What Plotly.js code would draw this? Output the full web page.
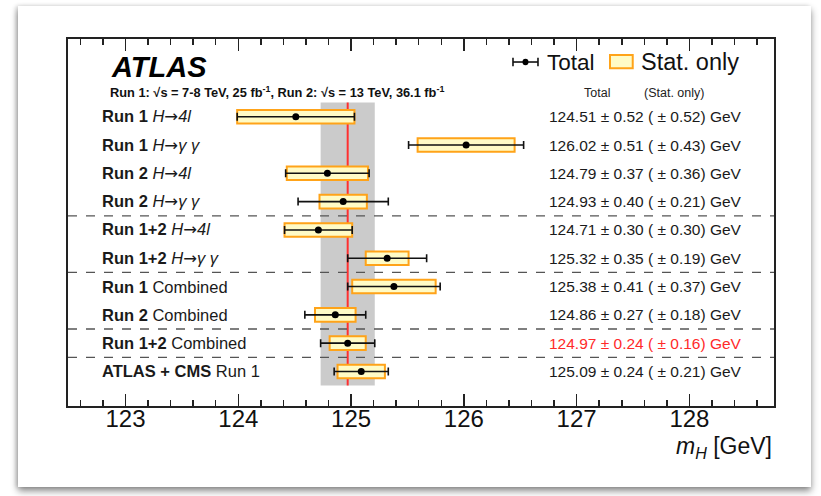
<!DOCTYPE html>
<html>
<head>
<meta charset="utf-8">
<script src="https://cdn.plot.ly/plotly-3.0.1.min.js"></script>
<style>
  html, body { margin:0; padding:0; background:#ffffff; width:821px; height:496px; overflow:hidden; }
  #card { position:absolute; left:18px; top:6px; width:793px; height:481px; background:#fff;
          box-shadow: 0 4px 7px rgba(0,0,0,0.45), -2px 0 4px rgba(0,0,0,0.15); }
  #chart { position:absolute; left:0; top:0; width:821px; height:496px; }
</style>
</head>
<body>
<div id="card"></div>
<div id="chart"></div>
<script>
// ---- data ----
const ARROW = "<span style='font-family:DejaVu Sans'>→</span>";
const labels = [
  "<b>Run 1</b> <i>H" + ARROW + "4l</i>",
  "<b>Run 1</b> <i>H" + ARROW + "γ γ</i>",
  "<b>Run 2</b> <i>H" + ARROW + "4l</i>",
  "<b>Run 2</b> <i>H" + ARROW + "γ γ</i>",
  "<b>Run 1+2</b> <i>H" + ARROW + "4l</i>",
  "<b>Run 1+2</b> <i>H" + ARROW + "γ γ</i>",
  "<b>Run 1</b> Combined",
  "<b>Run 2</b> Combined",
  "<b>Run 1+2</b> Combined",
  "<b>ATLAS + CMS</b> Run 1"
];
const central = [124.51, 126.02, 124.79, 124.93, 124.71, 125.32, 125.38, 124.86, 124.97, 125.09];
const totalErr = [0.52, 0.51, 0.37, 0.40, 0.30, 0.35, 0.41, 0.27, 0.24, 0.24];
const statErr  = [0.52, 0.43, 0.36, 0.21, 0.30, 0.19, 0.37, 0.18, 0.16, 0.21];
const highlightRow = 8;          // Run 1+2 Combined (red text, band and line)
const separatorsAfter = [3, 5, 7, 8];
const xTickVals = [123, 124, 125, 126, 127, 128];

// ---- derived ----
const rows = labels.map((_, i) => i);
const FONT = "Liberation Sans, Arial, Helvetica, sans-serif";

const statTrace = {
  type: 'bar', orientation: 'h',
  y: rows,
  x: statErr.map(s => 2 * s),
  base: central.map((c, i) => c - statErr[i]),
  width: 0.48,
  marker: { color: '#fffbc6', line: { color: '#ffa319', width: 2 } },
  hoverinfo: 'skip', showlegend: false
};
const totalTrace = {
  type: 'scatter', mode: 'markers',
  x: central, y: rows,
  error_x: { type: 'data', symmetric: true, array: totalErr, color: '#111', thickness: 1.6, width: 4 },
  marker: { color: '#000', size: 7 },
  hoverinfo: 'skip', showlegend: false
};

const annotations = [];
rows.forEach(i => {
  annotations.push({
    xref: 'paper', yref: 'y', x: 0.046, y: i, xanchor: 'left', yanchor: 'middle',
    text: labels[i], showarrow: false, font: { family: FONT, size: 16.5, color: '#1a1a1a' }
  });
  const txt = central[i].toFixed(2) + ' ± ' + totalErr[i].toFixed(2) + ' ( ± ' + statErr[i].toFixed(2) + ') GeV';
  annotations.push({
    xref: 'paper', yref: 'y', x: 0.678, y: i, xanchor: 'left', yanchor: 'middle',
    text: txt, showarrow: false,
    font: { family: FONT, size: 15.5, color: i === highlightRow ? '#ff2a2a' : '#1a1a1a' }
  });
});
// ATLAS label and run info
annotations.push({ xref:'paper', yref:'paper', x:0.058, y:0.9245, xanchor:'left', yanchor:'middle',
  text:'<b><i>ATLAS</i></b>', showarrow:false, font:{family:FONT, size:29, color:'#000'} });
annotations.push({ xref:'paper', yref:'paper', x:0.056, y:0.856, xanchor:'left', yanchor:'middle',
  text:'<b>Run 1: √s = 7-8 TeV, 25 fb<sup>-1</sup>, Run 2: √s = 13 TeV, 36.1 fb<sup>-1</sup></b>',
  showarrow:false, font:{family:FONT, size:12.8, color:'#111'} });
// column headers
annotations.push({ xref:'paper', yref:'paper', x:0.7489, y:0.852, xanchor:'center', yanchor:'middle',
  text:'Total', showarrow:false, font:{family:FONT, size:12.5, color:'#222'} });
annotations.push({ xref:'paper', yref:'paper', x:0.8584, y:0.852, xanchor:'center', yanchor:'middle',
  text:'(Stat. only)', showarrow:false, font:{family:FONT, size:12.5, color:'#222'} });
// legend texts
annotations.push({ xref:'paper', yref:'paper', x:0.6756, y:0.9373, xanchor:'left', yanchor:'middle',
  text:'Total', showarrow:false, font:{family:FONT, size:22.5, color:'#111'} });
annotations.push({ xref:'paper', yref:'paper', x:0.8088, y:0.9373, xanchor:'left', yanchor:'middle',
  text:'Stat. only', showarrow:false, font:{family:FONT, size:23.5, color:'#111'} });
// axis title
annotations.push({ xref:'paper', yref:'paper', x:1.0, y:-0.112, xanchor:'right', yanchor:'middle',
  text:'<i>m</i><sub><i>H</i></sub> [GeV]', showarrow:false, font:{family:FONT, size:23, color:'#111'} });

const shapes = [];
// grey band = highlighted combined total uncertainty
shapes.push({ type:'rect', layer:'below', xref:'x', yref:'y',
  x0: central[highlightRow] - totalErr[highlightRow], x1: central[highlightRow] + totalErr[highlightRow],
  y0: -0.5, y1: rows.length - 0.5, fillcolor:'#cbcbcb', line:{width:0} });
shapes.push({ type:'line', layer:'below', xref:'x', yref:'y',
  x0: central[highlightRow], x1: central[highlightRow], y0: -0.5, y1: rows.length - 0.5,
  line:{color:'#ff3030', width:2} });
separatorsAfter.forEach(r => {
  shapes.push({ type:'line', xref:'paper', yref:'y', x0:0, x1:1, y0:r + 0.5, y1:r + 0.5,
    line:{color:'#555', width:1.3, dash:'dash'} });
});
// legend glyphs
const ly = 0.9373, cap = 0.0115;
shapes.push({ type:'line', xref:'paper', yref:'paper', x0:0.6303, x1:0.6657, y0:ly, y1:ly, line:{color:'#111', width:1.6} });
shapes.push({ type:'line', xref:'paper', yref:'paper', x0:0.6303, x1:0.6303, y0:ly-cap, y1:ly+cap, line:{color:'#111', width:1.6} });
shapes.push({ type:'line', xref:'paper', yref:'paper', x0:0.6657, x1:0.6657, y0:ly-cap, y1:ly+cap, line:{color:'#111', width:1.6} });
shapes.push({ type:'circle', xref:'paper', yref:'paper', x0:0.6438, x1:0.6522, y0:ly-0.0088, y1:ly+0.0088, fillcolor:'#000', line:{color:'#000', width:0} });
shapes.push({ type:'rect', xref:'paper', yref:'paper', x0:0.7677, x1:0.7999, y0:0.9202, y1:0.9564,
  fillcolor:'#fffbc6', line:{color:'#ffa319', width:2} });

const xRange = [122.49, 128.75];
const layout = {
  width: 821, height: 496,
  margin: { l: 68, r: 47, t: 39, b: 90 },
  paper_bgcolor: 'rgba(0,0,0,0)', plot_bgcolor: 'rgba(0,0,0,0)',
  font: { family: FONT, color: '#111' },
  barmode: 'overlay',
  xaxis: {
    range: xRange, tickvals: xTickVals, ticktext: xTickVals.map(String),
    ticks: 'inside', ticklen: 12, tickwidth: 1.5, tickcolor: '#222',
    minor: { dtick: 0.2, ticks: 'inside', ticklen: 6, tickwidth: 1.5, tickcolor: '#222', showgrid: false },
    showline: true, linecolor: '#222', linewidth: 1.6, mirror: true,
    showgrid: false, zeroline: false, tickfont: { family: FONT, size: 24, color: '#111' }, ticklabelstandoff: -9
  },
  xaxis2: {
    overlaying: 'x', side: 'top', range: xRange, tickvals: xTickVals, showticklabels: false,
    ticks: 'inside', ticklen: 12, tickwidth: 1.5, tickcolor: '#222',
    minor: { dtick: 0.2, ticks: 'inside', ticklen: 6, tickwidth: 1.5, tickcolor: '#222', showgrid: false },
    showline: false, showgrid: false, zeroline: false
  },
  yaxis: {
    range: [10.22, -2.745], showticklabels: false, ticks: '', showgrid: false, zeroline: false,
    showline: true, linecolor: '#222', linewidth: 1.6, mirror: true
  },
  showlegend: false,
  annotations: annotations,
  shapes: shapes
};

const topAxisTrace = { type: 'scatter', mode: 'markers', x: [], y: [], xaxis: 'x2', yaxis: 'y', hoverinfo: 'skip', showlegend: false };

Plotly.newPlot('chart', [statTrace, totalTrace, topAxisTrace], layout, { staticPlot: true, displayModeBar: false });
</script>
</body>
</html>
